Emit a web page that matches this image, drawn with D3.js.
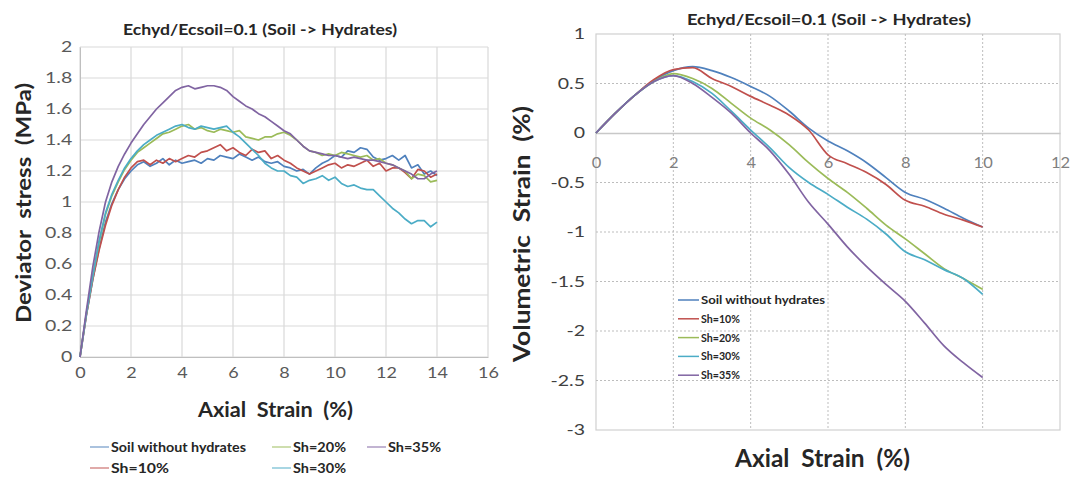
<!DOCTYPE html>
<html><head><meta charset="utf-8">
<script src="https://cdn.jsdelivr.net/npm/d3@7/dist/d3.min.js"></script>
<style>
body{margin:0;background:#fff;}
svg text{font-family:Lato,"Open Sans",sans-serif;}
</style></head>
<body><svg id="c" width="1074" height="477"></svg>
<script>
// ---------- data ----------
const seriesNames = ["Soil without hydrates","Sh=10%","Sh=20%","Sh=30%","Sh=35%"];
const seriesColors = ["#4F81BD","#C0504D","#9BBB59","#4BACC6","#8064A2"];

// Left chart: deviator stress (MPa) vs axial strain (%)
const strainL = [0,0.25,0.5,0.75,1,1.25,1.5,1.75,2,2.25,2.5,2.75,3,3.25,3.5,3.75,4,4.25,4.5,4.75,5,5.25,5.5,5.75,6,6.25,6.5,6.75,7,7.25,7.5,7.75,8,8.25,8.5,8.75,9,9.25,9.5,9.75,10,10.25,10.5,10.75,11,11.25,11.5,11.75,12,12.25,12.5,12.75,13,13.25,13.5,13.75,14];
const devSoil = [0,0.27,0.5,0.7,0.87,0.99,1.08,1.15,1.2,1.24,1.26,1.23,1.25,1.28,1.24,1.27,1.25,1.26,1.27,1.25,1.28,1.27,1.3,1.29,1.28,1.31,1.29,1.27,1.29,1.26,1.25,1.26,1.23,1.22,1.2,1.21,1.18,1.22,1.25,1.27,1.3,1.29,1.33,1.32,1.35,1.34,1.29,1.27,1.28,1.3,1.27,1.3,1.22,1.24,1.18,1.2,1.17];
const devSh10 = [0,0.27,0.5,0.69,0.85,0.98,1.08,1.16,1.22,1.26,1.27,1.24,1.27,1.25,1.28,1.26,1.28,1.3,1.29,1.32,1.33,1.35,1.37,1.33,1.35,1.32,1.3,1.34,1.32,1.33,1.28,1.3,1.27,1.25,1.22,1.2,1.18,1.2,1.22,1.24,1.25,1.22,1.24,1.23,1.25,1.27,1.23,1.25,1.2,1.22,1.22,1.19,1.15,1.21,1.2,1.16,1.18];
const devSh20 = [0,0.28,0.52,0.74,0.92,1.04,1.13,1.21,1.27,1.32,1.35,1.38,1.41,1.44,1.45,1.47,1.49,1.5,1.47,1.48,1.46,1.45,1.47,1.46,1.45,1.46,1.42,1.41,1.4,1.42,1.42,1.44,1.45,1.43,1.4,1.36,1.33,1.32,1.3,1.31,1.3,1.32,1.31,1.3,1.29,1.3,1.27,1.28,1.25,1.24,1.22,1.2,1.15,1.18,1.17,1.13,1.14];
const devSh30 = [0,0.28,0.52,0.75,0.93,1.05,1.14,1.22,1.28,1.33,1.37,1.4,1.43,1.45,1.47,1.49,1.5,1.48,1.47,1.49,1.48,1.47,1.48,1.49,1.45,1.42,1.38,1.34,1.3,1.25,1.22,1.2,1.2,1.17,1.16,1.12,1.14,1.15,1.17,1.14,1.16,1.12,1.1,1.11,1.09,1.08,1.08,1.04,1.0,0.96,0.93,0.89,0.86,0.88,0.88,0.84,0.87];
const devSh35 = [0,0.3,0.58,0.81,1.0,1.13,1.23,1.31,1.38,1.44,1.5,1.55,1.6,1.64,1.68,1.72,1.74,1.75,1.73,1.74,1.75,1.75,1.74,1.72,1.68,1.65,1.62,1.6,1.57,1.55,1.52,1.49,1.46,1.44,1.4,1.36,1.33,1.32,1.31,1.3,1.3,1.29,1.28,1.29,1.28,1.27,1.27,1.26,1.25,1.24,1.22,1.2,1.18,1.15,1.15,1.18,1.2];

// Right chart: volumetric strain (%) vs axial strain (%)
const strainR = [0,0.5,1,1.5,2,2.5,3,3.5,4,4.5,5,5.5,6,6.5,7,7.5,8,8.5,9,9.5,10];
const volSoil = [0,0.2,0.38,0.53,0.63,0.67,0.63,0.56,0.47,0.37,0.22,0.05,-0.08,-0.18,-0.3,-0.45,-0.6,-0.67,-0.76,-0.86,-0.95];
const volSh10 = [0,0.2,0.38,0.54,0.64,0.66,0.55,0.47,0.37,0.28,0.18,0.03,-0.22,-0.31,-0.4,-0.52,-0.68,-0.74,-0.82,-0.88,-0.95];
const volSh20 = [0,0.2,0.38,0.52,0.6,0.55,0.45,0.3,0.15,0.03,-0.12,-0.3,-0.46,-0.6,-0.76,-0.93,-1.07,-1.22,-1.37,-1.47,-1.58];
const volSh30 = [0,0.2,0.38,0.52,0.58,0.52,0.4,0.22,0.03,-0.15,-0.35,-0.5,-0.62,-0.75,-0.87,-1.02,-1.2,-1.28,-1.38,-1.47,-1.63];
const volSh35 = [0,0.2,0.38,0.52,0.58,0.5,0.36,0.2,0.0,-0.18,-0.42,-0.7,-0.92,-1.15,-1.35,-1.53,-1.7,-1.92,-2.15,-2.32,-2.47];

const xTicksL = [0,2,4,6,8,10,12,14,16];
const yTicksL = [0,0.2,0.4,0.6,0.8,1,1.2,1.4,1.6,1.8,2];
const xTicksR = [0,2,4,6,8,10,12];
const yTicksR = [-3,-2.5,-2,-1.5,-1,-0.5,0,0.5,1];
const titleText = "Echyd/Ecsoil=0.1 (Soil -> Hydrates)";

// ---------- drawing ----------
const svg = d3.select("#c");
const fmt = v => String(v);
const ink = "#262626";

function styleTicks(a, size, color, sx){
  a.selectAll("text").attr("font-size",size).attr("fill",color)
   .attr("font-family","Lato").attr("transform",`scale(${sx},1)`);
}

// ===== LEFT =====
const xL = d3.scaleLinear().domain([0,16]).range([80,488]);
const yL = d3.scaleLinear().domain([0,2]).range([357,47]);
const gL = svg.append("g");
gL.append("g").selectAll("line").data(xTicksL).join("line")
  .attr("x1",d=>xL(d)).attr("x2",d=>xL(d)).attr("y1",yL(0)).attr("y2",yL(2))
  .attr("stroke","#d9d9d9").attr("stroke-width",1.2);
gL.append("g").selectAll("line").data(yTicksL).join("line")
  .attr("x1",xL(0)).attr("x2",xL(16)).attr("y1",d=>yL(d)).attr("y2",d=>yL(d))
  .attr("stroke","#d9d9d9").attr("stroke-width",1.2);
const axL = gL.append("g").attr("transform",`translate(0,${yL(0)})`)
  .call(d3.axisBottom(xL).tickValues(xTicksL).tickFormat(fmt).tickSize(0).tickPadding(10));
const ayL = gL.append("g").attr("transform",`translate(${xL(0)},0)`)
  .call(d3.axisLeft(yL).tickValues(yTicksL).tickFormat(fmt).tickSize(0).tickPadding(6));
axL.select(".domain").attr("stroke","#bfbfbf");
ayL.select(".domain").attr("stroke","#bfbfbf");
styleTicks(axL,15,"#595959",1.2);
styleTicks(ayL,15,"#595959",1.3);
const leftSeries = [devSoil,devSh10,devSh20,devSh30,devSh35];
const lineL = d3.line().x((d,i)=>xL(strainL[i])).y(d=>yL(d));
leftSeries.forEach((s,k)=>{
  gL.append("path").datum(s).attr("d",lineL).attr("fill","none")
    .attr("stroke",seriesColors[k]).attr("stroke-width",1.7).attr("stroke-linejoin","round");
});
svg.append("text").attr("x",123).attr("y",35)
  .attr("font-size",15).attr("font-weight","bold").attr("fill",ink)
  .attr("textLength",274).attr("lengthAdjust","spacingAndGlyphs").text(titleText);
svg.append("text").attr("x",198).attr("y",417)
  .attr("font-size",20).attr("font-weight","bold").attr("fill",ink).attr("xml:space","preserve")
  .attr("textLength",155).attr("lengthAdjust","spacingAndGlyphs").text("Axial  Strain  (%)");
svg.append("text").attr("transform","translate(31,323) rotate(-90)")
  .attr("font-size",21).attr("font-weight","bold").attr("fill",ink).attr("xml:space","preserve")
  .attr("textLength",240).attr("lengthAdjust","spacingAndGlyphs").text("Deviator  stress  (MPa)");
// left legend
const legPosL = [[90,447],[90,468],[272,447],[272,468],[367,447]];
const legLenL = [135,58,53,53,53];
legPosL.forEach((p,k)=>{
  svg.append("line").attr("x1",p[0]).attr("x2",p[0]+19).attr("y1",p[1]).attr("y2",p[1])
    .attr("stroke",seriesColors[k]).attr("stroke-width",1.2).attr("opacity",0.8);
  svg.append("text").attr("x",p[0]+21).attr("y",p[1]+4.5).attr("font-size",12.5).attr("font-weight","bold")
    .attr("fill",ink).attr("textLength",legLenL[k]).attr("lengthAdjust","spacingAndGlyphs").text(seriesNames[k]);
});

// ===== RIGHT =====
const xR = d3.scaleLinear().domain([0,12]).range([596,1060]);
const yR = d3.scaleLinear().domain([-3,1]).range([430,34]);
const gR = svg.append("g");
gR.append("rect").attr("x",xR(0)).attr("y",yR(1)).attr("width",xR(12)-xR(0)).attr("height",yR(-3)-yR(1))
  .attr("fill","none").attr("stroke","#d0d0d0").attr("stroke-width",1.2);
gR.append("g").selectAll("line").data(xTicksR.slice(1,-1)).join("line")
  .attr("x1",d=>xR(d)).attr("x2",d=>xR(d)).attr("y1",yR(1)).attr("y2",yR(-3))
  .attr("stroke","#bdbdbd").attr("stroke-dasharray","2,2");
gR.append("g").selectAll("line").data(yTicksR.filter(d=>d!==0&&d!==1&&d!==-3)).join("line")
  .attr("x1",xR(0)).attr("x2",xR(12)).attr("y1",d=>yR(d)).attr("y2",d=>yR(d))
  .attr("stroke","#bdbdbd").attr("stroke-dasharray","2,2");
const axR = gR.append("g").attr("transform",`translate(0,${yR(0)})`)
  .call(d3.axisBottom(xR).tickValues(xTicksR).tickFormat(fmt).tickSize(0).tickPadding(24));
axR.select(".domain").attr("stroke","#c8c8c8").attr("stroke-width",1.3);
styleTicks(axR,15,"#7f7f7f",1.1);
const ayR = gR.append("g").attr("transform",`translate(${xR(0)},0)`)
  .call(d3.axisLeft(yR).tickValues(yTicksR).tickFormat(fmt).tickSize(0).tickPadding(8.5));
ayR.select(".domain").remove();
styleTicks(ayR,15,"#404040",1.3);
const rightSeries = [volSoil,volSh10,volSh20,volSh30,volSh35];
const lineR = d3.line().x((d,i)=>xR(strainR[i])).y(d=>yR(d)).curve(d3.curveMonotoneX);
rightSeries.forEach((s,k)=>{
  gR.append("path").datum(s).attr("d",lineR).attr("fill","none")
    .attr("stroke",seriesColors[k]).attr("stroke-width",1.7).attr("stroke-linejoin","round");
});
svg.append("text").attr("x",687).attr("y",25)
  .attr("font-size",15).attr("font-weight","bold").attr("fill",ink)
  .attr("textLength",284).attr("lengthAdjust","spacingAndGlyphs").text(titleText);
svg.append("text").attr("x",735).attr("y",467)
  .attr("font-size",24).attr("font-weight","bold").attr("fill",ink).attr("xml:space","preserve")
  .attr("textLength",175).attr("lengthAdjust","spacingAndGlyphs").text("Axial  Strain  (%)");
svg.append("text").attr("transform","translate(530,362) rotate(-90)")
  .attr("font-size",23).attr("font-weight","bold").attr("fill",ink).attr("xml:space","preserve")
  .attr("textLength",256).attr("lengthAdjust","spacingAndGlyphs").text("Volumetric  Strain  (%)");
const legLenR = [124,39,39,39,39];
seriesNames.forEach((n,k)=>{
  const y = 300 + k*18.8;
  svg.append("line").attr("x1",678).attr("x2",699).attr("y1",y).attr("y2",y)
    .attr("stroke",seriesColors[k]).attr("stroke-width",1.5);
  svg.append("text").attr("x",701).attr("y",y+4).attr("font-size",11.5).attr("font-weight","bold")
    .attr("fill",ink).attr("textLength",legLenR[k]).attr("lengthAdjust","spacingAndGlyphs").text(n);
});
</script></body></html>
